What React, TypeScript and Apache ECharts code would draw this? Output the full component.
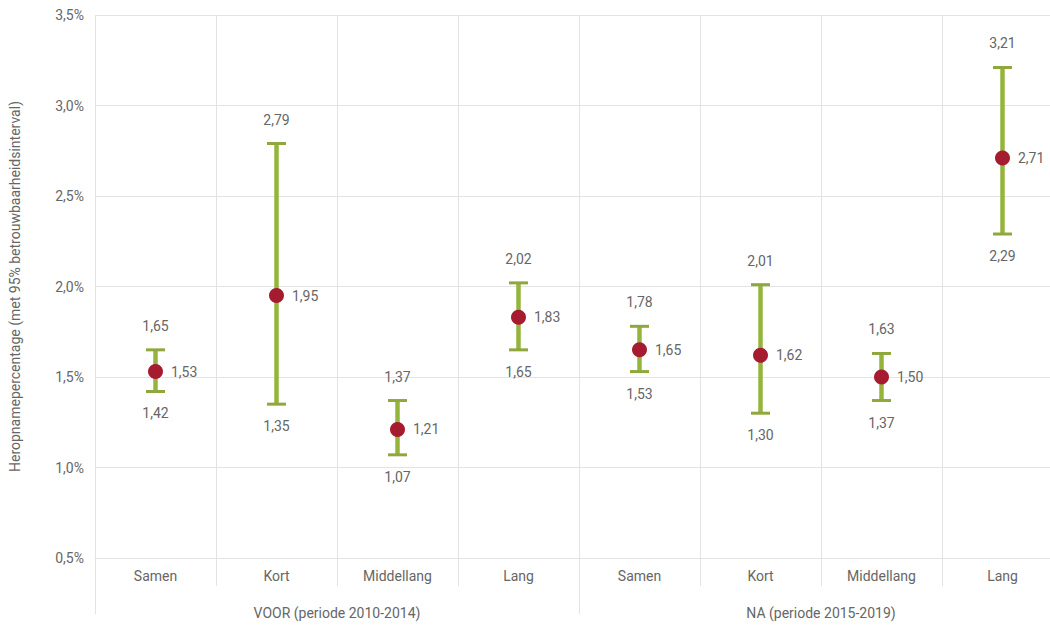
import React, { useEffect, useRef } from "react";
import * as echarts from "echarts";

const categories = ["Samen", "Kort", "Middellang", "Lang", "Samen", "Kort", "Middellang", "Lang"];
const groups = ["VOOR (periode 2010-2014)", "NA (periode 2015-2019)"];
const meanValues = [1.53, 1.95, 1.21, 1.83, 1.65, 1.62, 1.5, 2.71];
const lowerValues = [1.42, 1.35, 1.07, 1.65, 1.53, 1.3, 1.37, 2.29];
const upperValues = [1.65, 2.79, 1.37, 2.02, 1.78, 2.01, 1.63, 3.21];

const FONT = "Roboto, sans-serif";
const TEXT = "#666666";
const GRID = "#e3e3e3";
const GREEN = "#95b43c";
const CAP = "#8fa83e";
const RED = "#a51c30";

const fmt = (v: number) => v.toFixed(2).replace(".", ",");

export default function App() {
  const ref = useRef<HTMLDivElement>(null);
  useEffect(() => {
    document.body.style.margin = "0";
    const chart = echarts.init(ref.current!, null, { renderer: "svg" });
    const errData = categories.map((_, i) => [i, lowerValues[i], upperValues[i]]);
    const pointData = categories.map((_, i) => [i, meanValues[i]]);
    chart.setOption({
      animation: false,
      textStyle: { fontFamily: FONT },
      grid: { left: 95, top: 15, width: 968, height: 543, containLabel: false, outerBoundsMode: "none" },
      xAxis: [
        {
          type: "category",
          data: categories,
          boundaryGap: true,
          axisLine: { show: true, lineStyle: { color: GRID } },
          axisTick: { show: true, length: 28, lineStyle: { color: GRID } },
          axisLabel: { color: TEXT, fontSize: 14, margin: 11, fontFamily: FONT },
          splitLine: { show: true, lineStyle: { color: GRID } },
        },
        {
          type: "category",
          data: groups,
          position: "bottom",
          boundaryGap: true,
          axisLine: { show: false },
          axisTick: { show: true, length: 56, lineStyle: { color: GRID } },
          axisLabel: { color: TEXT, fontSize: 14, margin: 48, fontFamily: FONT },
          splitLine: { show: false },
        },
      ],
      yAxis: {
        type: "value",
        min: 0.5,
        max: 3.5,
        interval: 0.5,
        name: "Heropnamepercentage (met 95% betrouwbaarheidsinterval)",
        nameLocation: "middle",
        nameGap: 73,
        nameRotate: 90,
        nameTextStyle: { color: TEXT, fontSize: 14, fontFamily: FONT },
        axisLine: { show: false },
        axisTick: { show: false },
        axisLabel: {
          color: TEXT,
          fontSize: 14,
          margin: 11,
          fontFamily: FONT,
          formatter: (v: number) => v.toFixed(1).replace(".", ",") + "%",
        },
        splitLine: { show: true, lineStyle: { color: GRID } },
      },
      series: [
        {
          type: "custom",
          xAxisIndex: 0,
          data: errData,
          encode: { x: 0, y: [1, 2] },
          renderItem: (params: any, api: any) => {
            const x = api.value(0);
            const lo = api.coord([x, api.value(1)]);
            const hi = api.coord([x, api.value(2)]);
            const cx = lo[0];
            const capHalf = 9.5;
            const lineStyle = { stroke: GREEN, lineWidth: 4.5 };
            const capStyle = { stroke: CAP, lineWidth: 3 };
            return {
              type: "group",
              children: [
                { type: "line", shape: { x1: cx, y1: hi[1], x2: cx, y2: lo[1] }, style: lineStyle },
                { type: "line", shape: { x1: cx - capHalf, y1: hi[1], x2: cx + capHalf, y2: hi[1] }, style: capStyle },
                { type: "line", shape: { x1: cx - capHalf, y1: lo[1], x2: cx + capHalf, y2: lo[1] }, style: capStyle },
                {
                  type: "text",
                  x: cx,
                  y: hi[1] - 24,
                  style: {
                    text: fmt(api.value(2)),
                    fill: TEXT,
                    font: "14px " + FONT,
                    align: "center",
                    verticalAlign: "middle",
                  },
                },
                {
                  type: "text",
                  x: cx,
                  y: lo[1] + 22,
                  style: {
                    text: fmt(api.value(1)),
                    fill: TEXT,
                    font: "14px " + FONT,
                    align: "center",
                    verticalAlign: "middle",
                  },
                },
              ],
            };
          },
          z: 2,
        },
        {
          type: "scatter",
          xAxisIndex: 0,
          data: pointData,
          symbol: "circle",
          symbolSize: 15,
          itemStyle: { color: RED, opacity: 1 },
          label: {
            show: true,
            position: "right",
            distance: 8,
            color: TEXT,
            fontSize: 14,
            fontFamily: FONT,
            formatter: (p: any) => fmt(p.value[1]),
          },
          z: 3,
        },
      ],
    });
    return () => chart.dispose();
  }, []);
  return <div ref={ref} style={{ width: 1050, height: 630 }} />;
}
